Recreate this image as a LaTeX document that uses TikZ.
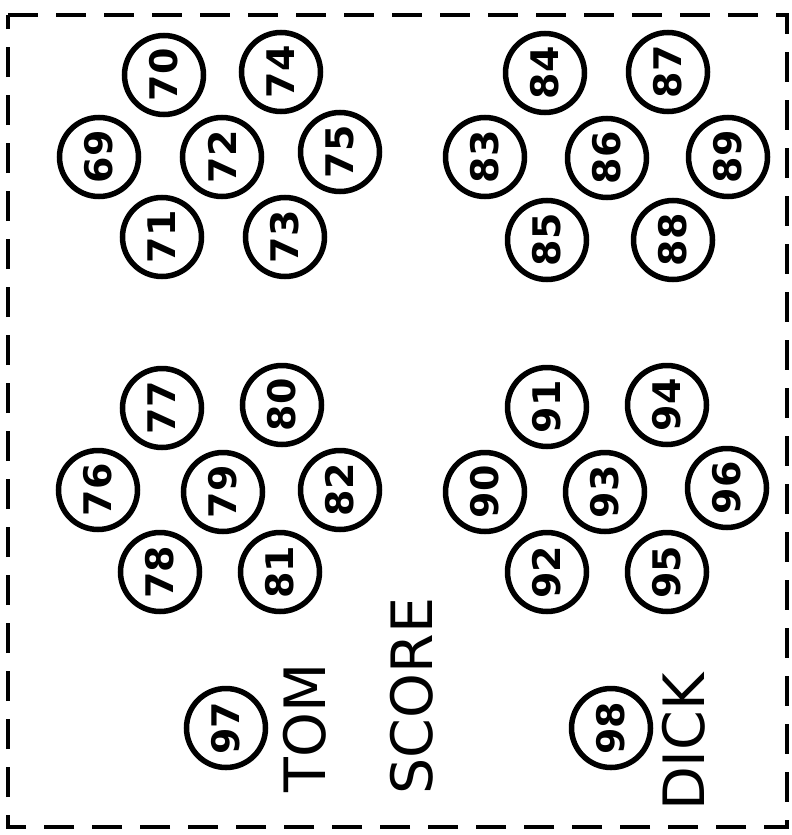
\documentclass[tikz,border=0pt]{standalone}
\usepackage{fontspec}
\setmainfont{DejaVu Sans}
\begin{document}
\begin{tikzpicture}[x=1pt,y=-1pt,
  ball/.style={draw,circle,line width=5.5pt,minimum size=79pt,inner sep=0pt,
    rotate=90,font=\fontsize{38}{38}\selectfont\bfseries},
  label/.style={rotate=90,font=\fontsize{57}{57}\selectfont},
  border/.style={line width=4.5pt,dash pattern=on 30pt off 18pt}]
\useasboundingbox (0,0) rectangle (792,835);
\draw[border] (8,15) -- (787,15) -- (787,827) -- (8,827) -- cycle;
% top-left group
\node[ball] (b70) at (164,75) {70};
\node[ball] (b74) at (281,72) {74};
\node[ball] (b69) at (99,157) {69};
\node[ball] (b72) at (222,157) {72};
\node[ball] (b75) at (340,152) {75};
\node[ball] (b71) at (162,237) {71};
\node[ball] (b73) at (285,237) {73};
% top-right group
\node[ball] (b84) at (545,73) {84};
\node[ball] (b87) at (668,72) {87};
\node[ball] (b83) at (485,157) {83};
\node[ball] (b86) at (607,158) {86};
\node[ball] (b89) at (728,157) {89};
\node[ball] (b85) at (547,240) {85};
\node[ball] (b88) at (673,240) {88};
% bottom-left group
\node[ball] (b77) at (162,408) {77};
\node[ball] (b80) at (282,405) {80};
\node[ball] (b76) at (98,490) {76};
\node[ball] (b79) at (223,492) {79};
\node[ball] (b82) at (340,490) {82};
\node[ball] (b78) at (160,572) {78};
\node[ball] (b81) at (280,572) {81};
% bottom-right group
\node[ball] (b91) at (547,407) {91};
\node[ball] (b94) at (667,405) {94};
\node[ball] (b90) at (485,492) {90};
\node[ball] (b93) at (605,492) {93};
\node[ball] (b96) at (727,488) {96};
\node[ball] (b92) at (547,572) {92};
\node[ball] (b95) at (667,572) {95};
% singles and labels
\node[ball] (b97) at (226,728) {97};
\node[ball] (b98) at (611,728) {98};
\node[label] (tom) at (305,728) {TOM};
\node[label] (score) at (412,696) {SCORE};
\node[label] (dick) at (684,742) {DICK};
\end{tikzpicture}
\end{document}
